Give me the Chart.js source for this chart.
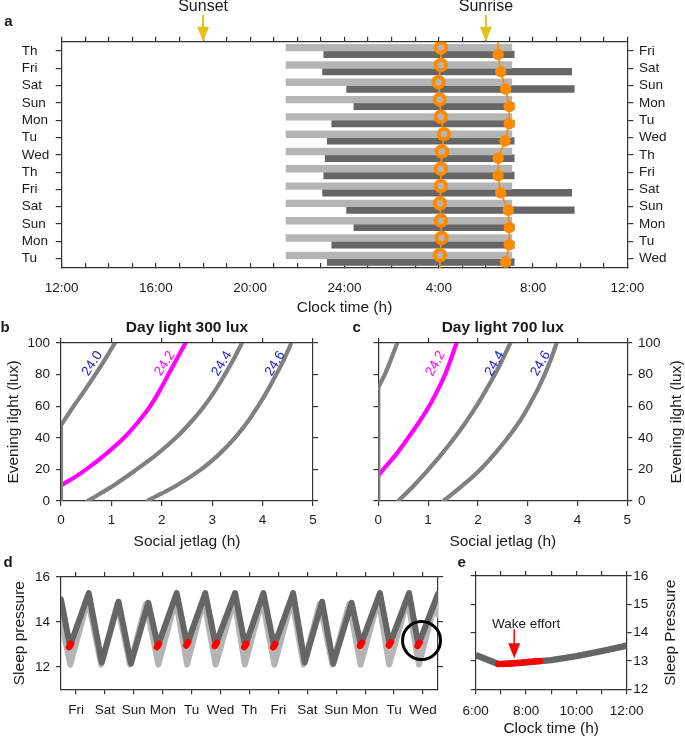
<!DOCTYPE html>
<html>
<head>
<meta charset="utf-8">
<script src="https://cdn.jsdelivr.net/npm/chart.js@4.4.1/dist/chart.umd.min.js"></script>
<style>
  body { margin: 0; background: #fff; }
  #page { position: relative; width: 685px; height: 738px; overflow: hidden; }
  canvas { position: absolute; }
</style>
</head>
<body>
<div id="page">
  <canvas id="chart-a" width="685" height="320" style="left:0;top:0"></canvas>
  <canvas id="chart-b" width="340" height="245" style="left:0;top:310px"></canvas>
  <canvas id="chart-c" width="345" height="245" style="left:340px;top:310px"></canvas>
  <canvas id="chart-d" width="460" height="183" style="left:0;top:555px"></canvas>
  <canvas id="chart-e" width="235" height="183" style="left:450px;top:555px"></canvas>
</div>
<script>
// ---- panel a: sleep schedule over two weeks ----
const leftDays = ['Th', 'Fri', 'Sat', 'Sun', 'Mon', 'Tu', 'Wed', 'Th', 'Fri', 'Sat', 'Sun', 'Mon', 'Tu'];
const rightDays = ['Fri', 'Sat', 'Sun', 'Mon', 'Tu', 'Wed', 'Th', 'Fri', 'Sat', 'Sun', 'Mon', 'Tu', 'Wed'];
const lightOn = [21.52, 21.52, 21.52, 21.52, 21.52, 21.52, 21.52, 21.52, 21.52, 21.52, 21.52, 21.52, 21.52];
const lightOff = [31.1, 31.1, 31.1, 31.1, 31.1, 31.1, 31.1, 31.1, 31.1, 31.1, 31.1, 31.1, 31.1];
const sleepOn = [23.12, 23.07, 24.09, 24.4, 23.46, 23.27, 23.18, 23.12, 23.07, 24.09, 24.4, 23.46, 23.27];
const sleepOff = [31.2, 33.64, 33.75, 31.2, 31.2, 31.2, 31.2, 31.2, 33.64, 33.75, 31.2, 31.2, 31.2];
const dlmo = [28.09, 28.09, 27.99, 28.04, 28.09, 28.22, 28.13, 28.09, 28.09, 28.05, 28.09, 28.12, 28.05];
const wakeUp = [30.52, 30.63, 30.84, 30.99, 30.99, 30.81, 30.52, 30.52, 30.63, 30.95, 30.99, 30.99, 30.84];
const aTickHours = [12, 16, 20, 24, 28, 32, 36];
const aTickLabels = ['12:00', '16:00', '20:00', '24:00', '4:00', '8:00', '12:00'];
const sunsetHour = 18;
const sunriseHour = 30;

// ---- panels b and c: period contours (x = social jetlag, y = evening light) ----
const b240Jet = [0, 0, 0.25, 0.47, 0.68, 0.88, 1.07];
const b240Lux = [0, 48, 60, 70, 80, 90, 100];
const b242Jet = [0, 0.27, 0.5, 0.9, 1.25, 1.53, 1.77, 1.96, 2.13, 2.3, 2.47];
const b242Lux = [10, 15, 20, 30, 40, 50, 60, 70, 80, 90, 100];
const b244Jet = [0.53, 1.05, 1.5, 1.92, 2.28, 2.58, 2.84, 3.06, 3.25, 3.43, 3.59];
const b246Jet = [1.71, 2.3, 2.78, 3.15, 3.45, 3.7, 3.91, 4.1, 4.27, 4.43, 4.57];
const c240Jet = [0, 0, 0.13, 0.26, 0.38];
const c240Lux = [0, 72, 80, 90, 100];
const c242Jet = [0, 0.1, 0.37, 0.6, 0.82, 1.02, 1.19, 1.34, 1.46, 1.57];
const c242Lux = [16, 20, 30, 40, 50, 60, 70, 80, 90, 100];
const c244Jet = [0.4, 0.72, 1.01, 1.28, 1.53, 1.76, 1.97, 2.16, 2.34, 2.5, 2.65];
const c246Jet = [1.31, 1.7, 2.05, 2.34, 2.6, 2.83, 3.02, 3.19, 3.34, 3.47, 3.58];
const luxSteps = [0, 10, 20, 30, 40, 50, 60, 70, 80, 90, 100];

// ---- panel d: sleep pressure ----
const dDays = ['Fri', 'Sat', 'Sun', 'Mon', 'Tu', 'Wed', 'Th', 'Fri', 'Sat', 'Sun', 'Mon', 'Tu', 'Wed'];
const darkT = [0.48, 0.79, 1.44, 1.89, 2.47, 2.9, 3.5, 3.83, 4.48, 4.84, 5.47, 5.83, 6.5, 6.85, 7.48, 7.85, 8.51, 8.91, 9.51, 9.9, 10.53, 10.85, 11.51, 11.85, 12.52, 12.84, 13.52];
const darkP = [15.0, 12.93, 15.28, 12.2, 14.9, 12.15, 14.85, 12.93, 15.28, 13.0, 15.28, 12.98, 15.28, 12.93, 15.28, 12.92, 15.28, 12.2, 14.9, 12.15, 14.85, 12.98, 15.28, 13.0, 15.28, 12.98, 15.25];
const lightT = [0.48, 0.8, 1.41, 1.87, 2.43, 2.87, 3.42, 3.85, 4.45, 4.84, 5.42, 5.83, 6.47, 6.84, 7.44, 7.86, 8.47, 8.87, 9.43, 9.87, 10.45, 10.84, 11.46, 11.83, 12.47, 12.86, 13.45, 13.52];
const lightP = [14.1, 12.1, 15.0, 12.1, 14.8, 12.1, 14.8, 12.1, 15.0, 12.1, 15.0, 12.1, 15.0, 12.1, 15.0, 12.1, 15.0, 12.1, 14.8, 12.1, 14.8, 12.1, 15.0, 12.1, 15.0, 12.1, 15.0, 14.3];
const effortT = [0.79, 3.83, 4.84, 5.83, 6.85, 7.85, 10.85, 11.85, 12.84];
const effortP = [12.93, 12.93, 13.0, 12.98, 12.93, 12.92, 12.98, 13.0, 12.98];
const zoomT = 12.95;
const zoomP = 13.17;

// ---- panel e: zoom on the last morning ----
const eHours = [6, 6.9, 8, 9, 10, 11, 12];
const ePressure = [13.21, 12.89, 12.95, 13.03, 13.17, 13.35, 13.54];
const eEffortHours = [6.9, 7.1, 7.3, 7.5, 7.7, 7.9, 8.1, 8.3, 8.55];
const eEffortP = [12.89, 12.89, 12.9, 12.92, 12.93, 12.95, 12.97, 12.98, 13.0];
const eTickHours = [6, 8, 10, 12];
const eTickLabels = ['6:00', '8:00', '10:00', '12:00'];

const FONT = '"Liberation Sans", Arial, Helvetica, sans-serif';
Chart.defaults.font.family = FONT;
Chart.defaults.font.size = 13.5;
Chart.defaults.color = '#1a1a1a';
Chart.defaults.animation = false;
Chart.defaults.responsive = false;
Chart.defaults.plugins.legend.display = false;
Chart.defaults.plugins.tooltip.enabled = false;
Chart.defaults.elements.point.radius = 0;

const AXIS = '#333';
const ORANGE = '#ff8a00';
const GRAY = '#808080';
const MAGENTA = '#ff00ff';
const BLUE = '#1c1ccc';

function range(a, b) {
  const out = [];
  for (let v = a; v <= b; v++) out.push(v);
  return out;
}

// one scale with a fixed thickness so every plot area lands where the figure has it
function axis(position, size, tickValues, opt) {
  opt = opt || {};
  return {
    type: 'linear',
    position: position,
    min: opt.min,
    max: opt.max,
    reverse: !!opt.reverse,
    offset: false,
    afterFit: s => { if (s.isHorizontal()) s.height = size; else s.width = size; },
    afterBuildTicks: s => { s.ticks = tickValues.map(v => ({ value: v })); },
    border: { color: AXIS, width: 1.2 },
    grid: { drawOnChartArea: false, offset: false, color: AXIS, lineWidth: 1.2, tickLength: opt.tickLength || 5 },
    ticks: {
      display: !!opt.labels,
      padding: opt.padding || 4,
      crossAlign: opt.crossAlign || 'near',
      maxRotation: 0,
      autoSkip: false,
      callback: opt.labels || (v => v)
    },
    title: opt.title ? {
      display: true,
      text: opt.title,
      font: { size: 15.5 },
      color: '#1a1a1a',
      padding: opt.titlePad
    } : { display: false }
  };
}

function curve(xs, ys, color, width) {
  return {
    type: 'line',
    data: xs.map((x, i) => ({ x: x, y: ys[i] })),
    borderColor: color,
    borderWidth: width,
    borderCapStyle: 'round',
    borderJoinStyle: 'round',
    tension: 0,
    pointRadius: 0,
    fill: false
  };
}

// contour lines: lux rises along each one, so smooth them along y
function contour(xs, ys, color) {
  return Object.assign(curve(xs, ys, color, 4.2), { indexAxis: 'y', cubicInterpolationMode: 'monotone' });
}

function drawArrow(ctx, x, y0, y1, color, width, headLen, headHalf) {
  ctx.save();
  ctx.strokeStyle = color;
  ctx.fillStyle = color;
  ctx.lineWidth = width;
  ctx.beginPath();
  ctx.moveTo(x, y0);
  ctx.lineTo(x, y1 - headLen + 1);
  ctx.stroke();
  ctx.beginPath();
  ctx.moveTo(x - headHalf, y1 - headLen);
  ctx.lineTo(x + headHalf, y1 - headLen);
  ctx.lineTo(x, y1);
  ctx.closePath();
  ctx.fill();
  ctx.restore();
}

// texts that are not tick labels; xData / yData = place at scale values
function notes(items, extra) {
  return {
    id: 'notes',
    afterDraw(chart) {
      const ctx = chart.ctx;
      const area = chart.chartArea;
      if (extra) extra(chart, ctx);
      items.forEach(n => {
        let x = n.x, y = n.y;
        if (n.xData) x = chart.scales.x.getPixelForValue(n.x);
        if (n.yData) y = chart.scales.y.getPixelForValue(n.y);
        if (n.centerX) x = (area.left + area.right) / 2;
        if (n.centerY) y = (area.top + area.bottom) / 2;
        ctx.save();
        ctx.translate(x, y);
        ctx.rotate((n.rotation || 0) * Math.PI / 180);
        ctx.font = (n.bold ? 'bold ' : '') + (n.size || 13.5) + 'px ' + FONT;
        ctx.fillStyle = n.color || '#1a1a1a';
        ctx.textAlign = 'center';
        ctx.textBaseline = 'middle';
        ctx.fillText(n.text, 0, 0);
        ctx.restore();
      });
    }
  };
}

// ================= panel a =================
const rows = leftDays.map((d, i) => i + 1);
const hourTicks = range(12, 36);
const aLabel = v => { const i = aTickHours.indexOf(v); return i >= 0 ? aTickLabels[i] : ''; };
const lastRow = rows.length;

new Chart(document.getElementById('chart-a'), {
  type: 'scatter',
  data: {
    datasets: [
      {
        type: 'line',
        order: 1,
        data: [{ x: dlmo[0], y: 0.46 }].concat(dlmo.map((v, i) => ({ x: v, y: rows[i] - 0.2 })), [{ x: dlmo[lastRow - 1], y: 13.54 }]),
        borderColor: ORANGE,
        borderWidth: 1.7,
        pointRadius: ctx => (ctx.dataIndex === 0 || ctx.dataIndex === lastRow + 1) ? 0 : 5.2,
        pointBorderWidth: 4,
        pointBorderColor: ORANGE,
        pointBackgroundColor: '#b5b5b5',
        tension: 0
      },
      {
        type: 'line',
        order: 1,
        data: [{ x: wakeUp[0], y: 0.46 }].concat(wakeUp.map((v, i) => ({ x: v, y: rows[i] + 0.2 }))),
        borderColor: ORANGE,
        borderWidth: 1.7,
        pointRadius: ctx => ctx.dataIndex === 0 ? 0 : 5,
        pointBorderWidth: 1.4,
        pointBorderColor: ORANGE,
        pointBackgroundColor: ORANGE,
        tension: 0
      },
      {
        type: 'bar',
        order: 3,
        indexAxis: 'y',
        data: rows.map((r, i) => ({ y: r, x: [lightOn[i], lightOff[i]] })),
        backgroundColor: '#b5b5b5',
        barThickness: 6.7,
        grouped: true
      },
      {
        type: 'bar',
        order: 3,
        indexAxis: 'y',
        data: rows.map((r, i) => ({ y: r, x: [sleepOn[i], sleepOff[i]] })),
        backgroundColor: '#666666',
        barThickness: 6.7,
        grouped: true
      }
    ]
  },
  options: {
    layout: { padding: { left: 21.7 } },
    scales: {
      x: axis('bottom', 52, hourTicks, { min: 12, max: 36, labels: aLabel, padding: 17, tickLength: -5,
        title: 'Clock time (h)', titlePad: { top: 0, bottom: 3.4 } }),
      x2: axis('top', 41.7, hourTicks, { min: 12, max: 36 }),
      y: axis('left', 40, rows, { min: 0.46, max: 13.54, reverse: true, labels: v => leftDays[v - 1],
        crossAlign: 'far', tickLength: 6 }),
      y2: axis('right', 57.7, rows, { min: 0.46, max: 13.54, reverse: true, labels: v => rightDays[v - 1],
        padding: 5.7, tickLength: 6 })
    }
  },
  plugins: [notes([
    { text: 'a', x: 8.3, y: 21.7, bold: true, size: 15 },
    { text: 'Sunset', x: sunsetHour, xData: true, y: 7, size: 16 },
    { text: 'Sunrise', x: sunriseHour, xData: true, y: 7, size: 16 }
  ], (chart, ctx) => {
    const xs = chart.scales.x;
    [sunsetHour, sunriseHour].forEach(h => {
      drawArrow(ctx, xs.getPixelForValue(h), 15, chart.chartArea.top, '#e3c21a', 2, 15, 6);
    });
  })]
});

// ================= panels b and c =================
const jetTicks = range(0, 5);
const luxTicks = [0, 20, 40, 60, 80, 100];

new Chart(document.getElementById('chart-b'), {
  type: 'scatter',
  data: {
    datasets: [
      curve(b240Jet.slice(0, 2), b240Lux.slice(0, 2), GRAY, 4.2),
      contour(b240Jet.slice(1), b240Lux.slice(1), GRAY),
      contour(b244Jet, luxSteps, GRAY),
      contour(b246Jet, luxSteps, GRAY),
      contour(b242Jet, b242Lux, MAGENTA)
    ]
  },
  options: {
    scales: {
      x: axis('bottom', 54, jetTicks, { min: 0, max: 5, labels: v => v, padding: 6,
        title: 'Social jetlag (h)', titlePad: { top: 0, bottom: 4 } }),
      x2: axis('top', 33, jetTicks, { min: 0, max: 5 }),
      y: axis('left', 61, luxTicks, { min: 0, max: 100, labels: v => v, padding: 6,
        title: 'Evening ilght (lux)', titlePad: { top: 4, bottom: 0 } }),
      y2: axis('right', 27, luxTicks, { min: 0, max: 100 })
    }
  },
  plugins: [notes([
    { text: 'b', x: 5, y: 18, bold: true, size: 15 },
    { text: 'Day light 300 lux', y: 18, centerX: true, bold: true, size: 15.5 },
    { text: '24.0', x: 0.62, y: 87, xData: true, yData: true, rotation: -57, color: BLUE },
    { text: '24.2', x: 2.06, y: 87, xData: true, yData: true, rotation: -57, color: MAGENTA },
    { text: '24.4', x: 3.19, y: 87, xData: true, yData: true, rotation: -58, color: BLUE },
    { text: '24.6', x: 4.25, y: 87, xData: true, yData: true, rotation: -58, color: BLUE }
  ])]
});

new Chart(document.getElementById('chart-c'), {
  type: 'scatter',
  data: {
    datasets: [
      curve(c240Jet.slice(0, 2), c240Lux.slice(0, 2), GRAY, 4.2),
      contour(c240Jet.slice(1), c240Lux.slice(1), GRAY),
      contour(c244Jet, luxSteps, GRAY),
      contour(c246Jet, luxSteps, GRAY),
      contour(c242Jet, c242Lux, MAGENTA)
    ]
  },
  options: {
    scales: {
      x: axis('bottom', 54, jetTicks, { min: 0, max: 5, labels: v => v, padding: 6,
        title: 'Social jetlag (h)', titlePad: { top: 0, bottom: 4 } }),
      x2: axis('top', 33, jetTicks, { min: 0, max: 5 }),
      y: axis('right', 57.7, luxTicks, { min: 0, max: 100, labels: v => v, padding: 5.7 }),
      y2: axis('left', 38.3, luxTicks, { min: 0, max: 100 })
    }
  },
  plugins: [notes([
    { text: 'c', x: 16.7, y: 18, bold: true, size: 15 },
    { text: 'Day light 700 lux', y: 18, centerX: true, bold: true, size: 15.5 },
    { text: 'Evening ilght (lux)', x: 336.7, centerY: true, rotation: -90, size: 15.5 },
    { text: '24.2', x: 1.15, y: 87, xData: true, yData: true, rotation: -60, color: MAGENTA },
    { text: '24.4', x: 2.34, y: 87, xData: true, yData: true, rotation: -60, color: BLUE },
    { text: '24.6', x: 3.26, y: 87, xData: true, yData: true, rotation: -60, color: BLUE }
  ])]
});

// ================= panel d =================
const dayTicks = dDays.map((d, i) => i + 1);
const pTicks = [12, 14, 16];
const effortData = [];
effortT.forEach((t, i) => {
  effortData.push({ x: t - 0.03, y: effortP[i] - 0.05 }, { x: t + 0.04, y: effortP[i] + 0.1 }, { x: t, y: null });
});

new Chart(document.getElementById('chart-d'), {
  type: 'scatter',
  data: {
    datasets: [
      Object.assign(curve(lightT, lightP, '#b4b4b4', 6), { order: 4 }),
      Object.assign(curve(darkT, darkP, '#656565', 6), { order: 3 }),
      Object.assign(curve([], [], 'red', 6.5), { order: 2, data: effortData, spanGaps: false }),
      {
        type: 'line',
        order: 1,
        clip: false,
        data: [{ x: zoomT, y: zoomP }],
        pointRadius: 19,
        pointBorderWidth: 3,
        pointBorderColor: '#000',
        pointBackgroundColor: 'rgba(0,0,0,0)',
        showLine: false
      }
    ]
  },
  options: {
    scales: {
      x: axis('bottom', 48.7, dayTicks, { min: 0.48, max: 13.52, labels: v => dDays[v - 1], padding: 7.6 }),
      x2: axis('top', 21, dayTicks, { min: 0.48, max: 13.52 }),
      y: axis('left', 61, pTicks, { min: 11, max: 16, labels: v => v, padding: 6,
        title: 'Sleep pressure', titlePad: { top: 10.4, bottom: 0 } }),
      y2: axis('right', 21.7, pTicks, { min: 11, max: 16 })
    }
  },
  plugins: [notes([
    { text: 'd', x: 8, y: 8, bold: true, size: 15 }
  ])]
});

// ================= panel e =================
const eHourTicks = range(6, 12);
const ePTicks = [12, 13, 14, 15, 16];
const eLabel = v => { const i = eTickHours.indexOf(v); return i >= 0 ? eTickLabels[i] : ''; };

new Chart(document.getElementById('chart-e'), {
  type: 'scatter',
  data: {
    datasets: [
      Object.assign(curve(eEffortHours, eEffortP, '#ff0000', 6), { order: 1, pointRadius: 3.2, pointBackgroundColor: '#ff0000', pointBorderWidth: 0 }),
      Object.assign(curve(eHours, ePressure, '#656565', 6.5), { order: 2, borderCapStyle: 'butt' })
    ]
  },
  options: {
    scales: {
      x: axis('bottom', 48.7, eHourTicks, { min: 6, max: 12, labels: eLabel, padding: 9.3,
        title: 'Clock time (h)', titlePad: { top: 0, bottom: 0 } }),
      x2: axis('top', 21, eHourTicks, { min: 6, max: 12 }),
      y: axis('right', 58.3, ePTicks, { min: 12, max: 16, labels: v => v, padding: 1.6 }),
      y2: axis('left', 25.7, ePTicks, { min: 12, max: 16 })
    }
  },
  plugins: [notes([
    { text: 'e', x: 11.7, y: 8, bold: true, size: 15 },
    { text: 'Sleep Pressure', x: 220.3, centerY: true, rotation: -90, size: 15.5 },
    { text: 'Wake effort', x: 8.0, y: 14.3, xData: true, yData: true, size: 13.5 }
  ], (chart, ctx) => {
    const xs = chart.scales.x, ys = chart.scales.y;
    drawArrow(ctx, xs.getPixelForValue(7.53), ys.getPixelForValue(14.12), ys.getPixelForValue(13.1), '#ff0000', 1.5, 15, 6);
  })]
});
</script>
</body>
</html>
